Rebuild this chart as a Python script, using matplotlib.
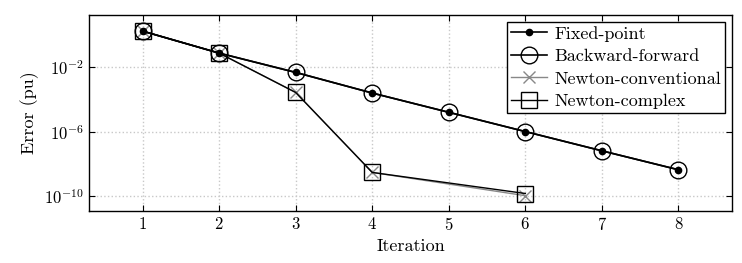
import matplotlib
matplotlib.use('Agg')
import matplotlib.pyplot as plt
import numpy as np

plt.rcParams['font.family'] = 'serif'
plt.rcParams['font.serif'] = ['cmr10', 'DejaVu Serif']
plt.rcParams['mathtext.fontset'] = 'cm'
plt.rcParams['axes.formatter.use_mathtext'] = True

# iterations and errors (pu)
iter_fixed = [1, 2, 3, 4, 5, 6, 7, 8]
err_fixed = [1.6, 0.07, 4.5e-3, 2.4e-4, 1.55e-5, 1.0e-6, 6.5e-8, 4.4e-9]
iter_bf = [1, 2, 3, 4, 5, 6, 7, 8]
err_bf = [1.6, 0.07, 4.5e-3, 2.4e-4, 1.55e-5, 1.0e-6, 6.5e-8, 4.4e-9]
iter_newton = [1, 2, 3, 4, 6]
err_newton_conv = [1.6, 0.07, 2.6e-4, 3.0e-9, 1.1e-10]
err_newton_cplx = [1.6, 0.07, 2.6e-4, 3.0e-9, 1.5e-10]

fig = plt.figure(figsize=(7.42, 2.63), dpi=100)
ax = fig.add_axes([0.12, 0.198, 0.8665, 0.745])

ax.plot(iter_fixed, err_fixed, color='black', lw=1.2, marker='o', ms=4.5,
        label='Fixed-point', zorder=5)
ax.plot(iter_bf, err_bf, color='black', lw=1.2, marker='o', ms=12, mfc='none',
        mew=1.0, label='Backward-forward', zorder=4)
ax.plot(iter_newton, err_newton_conv, color='#888888', lw=1.0, marker='x', ms=9,
        mew=1.0, label='Newton-conventional', zorder=3)
ax.plot(iter_newton, err_newton_cplx, color='black', lw=1.0, marker='s', ms=11,
        mfc='none', mew=1.0, label='Newton-complex', zorder=3)

ax.set_yscale('log')
ax.set_xlim(0.3, 8.7)
ax.set_ylim(10**-10.9, 10**1.2)
ax.set_xticks(range(1, 9))
ax.set_yticks([1e-10, 1e-6, 1e-2])
ax.minorticks_off()
ax.tick_params(direction='in', top=True, right=True, labelsize=12, length=4)
ax.grid(True, color='#c8c8c8', linestyle=':', linewidth=1.0)
ax.set_axisbelow(True)
for s in ax.spines.values():
    s.set_linewidth(1.0)

ax.set_xlabel('Iteration', fontsize=13)
ax.set_ylabel('Error (pu)', fontsize=13)

leg = ax.legend(loc='upper right', fontsize=13, frameon=True, fancybox=False,
                edgecolor='black', framealpha=1, borderpad=0.2, labelspacing=0.38,
                handlelength=2.0, handletextpad=0.4, borderaxespad=0.4)
leg.get_frame().set_linewidth(1.0)

fig.savefig('out.png', dpi=100)
